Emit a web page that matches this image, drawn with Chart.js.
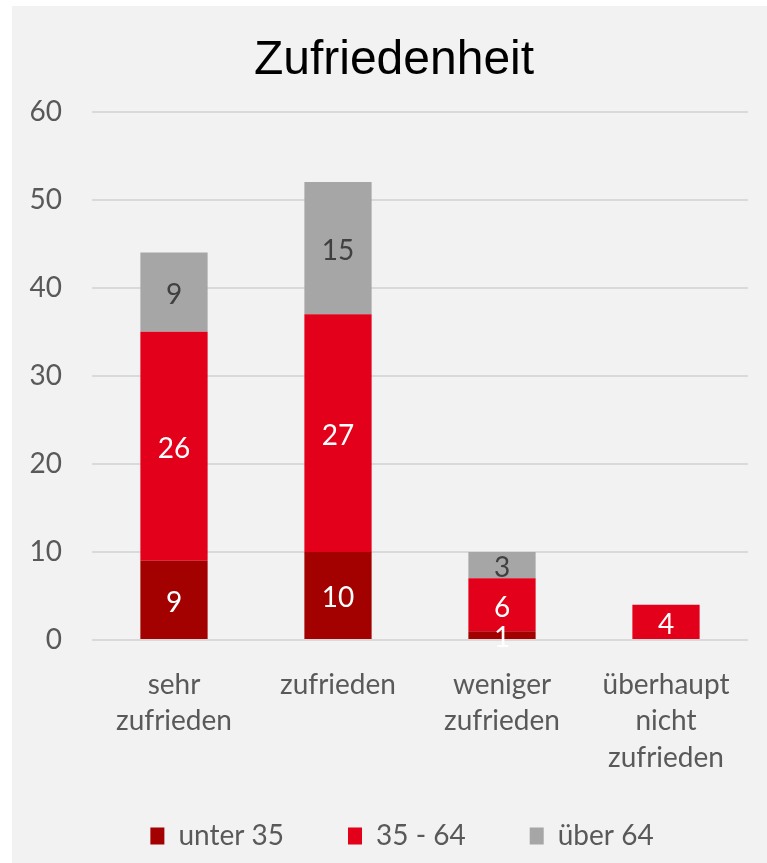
<!DOCTYPE html>
<html>
<head>
<meta charset="utf-8">
<script src="https://cdn.jsdelivr.net/npm/chart.js@4/dist/chart.umd.min.js"></script>
<style>
  html, body { margin: 0; padding: 0; background: #ffffff; overflow: hidden; }
  #panel { position: absolute; left: 12px; top: 6px; width: 755px; height: 857px; background: #f2f2f2; }
  #panel canvas { display: block; }
</style>
</head>
<body>
<div id="panel"><canvas id="c" width="750" height="857"></canvas></div>
<script>
const categories = [["sehr", "zufrieden"], ["zufrieden"], ["weniger", "zufrieden"], ["überhaupt", "nicht", "zufrieden"]];
const seriesNames = ["unter 35", "35 - 64", "über 64"];
const under35 = [9, 10, 1, 0];
const mid3564 = [26, 27, 6, 4];
const over64 = [9, 15, 3, 0];
const yTicks = [0, 10, 20, 30, 40, 50, 60];

const colors = ["#A30000", "#E2001A", "#A6A6A6"];
const labelColors = ["#ffffff", "#ffffff", "#404040"];
const FONT = "Lato, 'Open Sans', sans-serif";

const valueLabels = {
  id: 'valueLabels',
  afterDatasetsDraw(chart) {
    const ctx = chart.ctx;
    ctx.save();
    ctx.font = "28px " + FONT;
    ctx.textAlign = 'center';
    ctx.textBaseline = 'middle';
    chart.data.datasets.forEach((ds, di) => {
      const meta = chart.getDatasetMeta(di);
      meta.data.forEach((bar, i) => {
        const v = ds.data[i];
        if (!v) return;
        const p = bar.getProps(['x', 'y', 'base'], true);
        ctx.fillStyle = labelColors[di];
        ctx.fillText(String(v), p.x, (p.y + p.base) / 2 + 3);
      });
    });
    ctx.restore();
  }
};

const boxShift = {
  id: 'boxShift',
  afterLayout(chart) {
    const lg = chart.legend;
    if (lg) { lg.top -= 18; lg.left += 22; lg.right += 22; }
    const tb = chart.titleBlock;
    if (tb) { tb.left += 14; tb.right += 14; }
  }
};

new Chart(document.getElementById('c'), {
  type: 'bar',
  data: {
    labels: categories,
    datasets: [
      { label: seriesNames[0], data: under35, backgroundColor: colors[0] },
      { label: seriesNames[1], data: mid3564, backgroundColor: colors[1] },
      { label: seriesNames[2], data: over64, backgroundColor: colors[2] }
    ]
  },
  options: {
    responsive: false,
    animation: false,
    layout: { padding: { left: 0, right: 14, top: 0, bottom: 3 } },
    datasets: { bar: { categoryPercentage: 1, barPercentage: 0.41 } },
    scales: {
      x: {
        stacked: true,
        grid: { display: false },
        border: { display: false },
        ticks: { color: '#595959', font: { family: FONT, size: 28, lineHeight: 1.32 }, padding: 18, maxRotation: 0, autoSkip: false },
        afterFit(scale) { scale.height = 136; }
      },
      y: {
        stacked: true,
        min: 0, max: 60,
        afterBuildTicks(scale) { scale.ticks = yTicks.map(v => ({ value: v })); },
        grid: { color: '#d9d9d9', lineWidth: 2, drawTicks: false },
        border: { display: false },
        ticks: { color: '#595959', font: { family: FONT, size: 28 }, padding: 30 },
        afterFit(scale) { scale.width = 80; }
      }
    },
    plugins: {
      title: {
        display: true,
        text: 'Zufriedenheit',
        color: '#000000',
        font: { family: "'Liberation Sans', Arial, sans-serif", size: 48, weight: 'normal' },
        padding: { top: 26, bottom: 22 }
      },
      legend: {
        position: 'bottom',
        maxHeight: 84,
        labels: { color: '#595959', font: { family: FONT, size: 28 }, boxWidth: 14, boxHeight: 17, padding: 64 }
      },
      tooltip: { enabled: false }
    }
  },
  plugins: [valueLabels, boxShift]
});
</script>
</body>
</html>
